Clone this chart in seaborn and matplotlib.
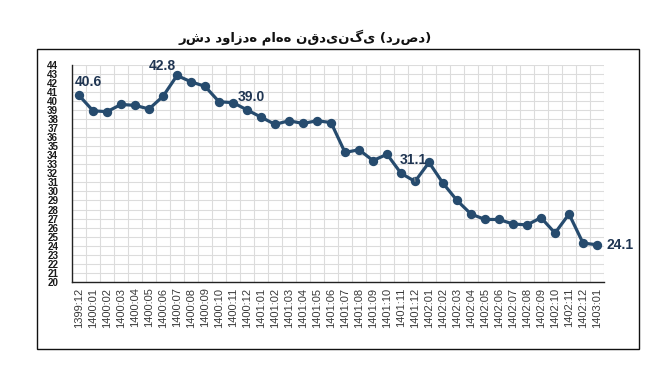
import matplotlib
matplotlib.use("Agg")
import matplotlib.pyplot as plt
import seaborn as sns
import pandas as pd
from matplotlib import font_manager
from matplotlib.patches import Rectangle

title = "رشد دوازده ماهه نقدینگی (درصد)"
periods = ["1399:12",
           "1400:01", "1400:02", "1400:03", "1400:04", "1400:05", "1400:06",
           "1400:07", "1400:08", "1400:09", "1400:10", "1400:11", "1400:12",
           "1401:01", "1401:02", "1401:03", "1401:04", "1401:05", "1401:06",
           "1401:07", "1401:08", "1401:09", "1401:10", "1401:11", "1401:12",
           "1402:01", "1402:02", "1402:03", "1402:04", "1402:05", "1402:06",
           "1402:07", "1402:08", "1402:09", "1402:10", "1402:11", "1402:12",
           "1403:01"]
growth = [40.6,
          38.9, 38.8, 39.6, 39.5, 39.1, 40.5,
          42.8, 42.1, 41.6, 39.9, 39.8, 39.0,
          38.2, 37.4, 37.8, 37.5, 37.8, 37.6,
          34.3, 34.6, 33.4, 34.1, 32.0, 31.1,
          33.2, 30.9, 29.0, 27.5, 26.9, 26.9,
          26.4, 26.3, 27.1, 25.4, 27.5, 24.3,
          24.1]
labelled = ["1399:12", "1400:07", "1400:12", "1401:12", "1403:01"]
y_ticks = list(range(20, 45))

df = pd.DataFrame({"period": periods, "growth": growth})

sns.set_style("white")
names = {f.name for f in font_manager.fontManager.ttflist}
narrow = "Liberation Sans Narrow" if "Liberation Sans Narrow" in names else "Liberation Sans"
plt.rcParams["font.family"] = ["Liberation Sans", "DejaVu Sans"]

LINE = "#264b6e"
TXT = "#1f3552"

fig = plt.figure(figsize=(6.46, 3.65), dpi=100)
ax = fig.add_axes([0.1115, 0.2275, 0.8235, 0.5955])

sns.pointplot(data=df, x="period", y="growth", ax=ax, color=LINE,
              markers="o", markersize=5, linewidth=2.3, errorbar=None)

ax.set_xlim(-0.5, len(periods) - 0.5)
ax.set_ylim(20, 44)
ax.set_yticks(y_ticks)
ax.set_yticklabels([str(v) for v in y_ticks], fontsize=7.0, fontweight="bold",
                   family=[narrow, "DejaVu Sans"], color="#1a1a1a")
ax.set_xticks(range(len(periods)))
ax.set_xticklabels(periods, rotation=90, fontsize=8, color="#3a3a3a")
ax.tick_params(axis="y", length=0, pad=10)
ax.tick_params(axis="x", length=0, pad=4)

# grid
ax.set_axisbelow(True)
for v in y_ticks:
    ax.axhline(v, color="#dcdcdc", lw=0.8, zorder=0)
for i in range(len(periods) + 1):
    ax.axvline(i - 0.5, color="#dcdcdc", lw=0.8, zorder=0)

ax.set_xlabel("")
ax.set_ylabel("")
for s in ["top", "right"]:
    ax.spines[s].set_visible(False)
ax.spines["left"].set_color("#222222")
ax.spines["bottom"].set_color("#222222")
ax.spines["left"].set_linewidth(1.0)
ax.spines["bottom"].set_linewidth(1.0)

offsets = {"1399:12": (9, 13), "1400:07": (-15, 9), "1400:12": (4, 13),
           "1401:12": (-2, 21), "1403:01": (23, 0)}
for p in labelled:
    i = periods.index(p)
    v = growth[i]
    dx, dy = offsets[p]
    kw = {}
    if p == "1401:12":
        kw["arrowprops"] = dict(arrowstyle="-", color="#a0a0a0", lw=0.6,
                                shrinkA=5, shrinkB=4)
    ax.annotate(f"{v:.1f}", xy=(i, v), xytext=(dx, dy), textcoords="offset pixels",
                ha="center", va="center", fontsize=10, fontweight="bold",
                color=TXT, **kw)

fig.text(0.472, 0.899, title, ha="center", va="center", fontsize=9.5,
         fontweight="bold", family=["DejaVu Sans"], color="#111111")

fig.patches.append(Rectangle((0.0573, 0.0438), 0.9317, 0.8222,
                             transform=fig.transFigure, fill=False,
                             edgecolor="#111111", lw=1.0))

fig.savefig("out.png", dpi=100)
